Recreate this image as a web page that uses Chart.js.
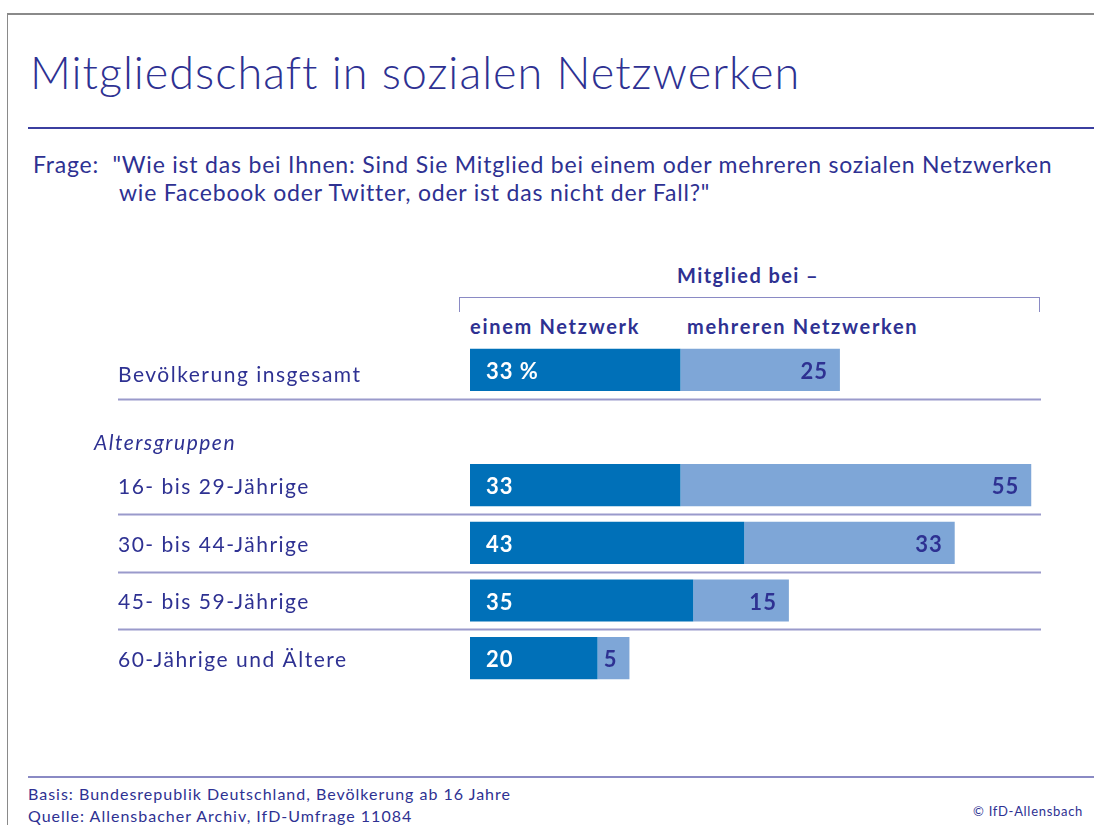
<!DOCTYPE html>
<html><head><meta charset="utf-8">
<script src="https://cdn.jsdelivr.net/npm/chart.js@4/dist/chart.umd.min.js"></script>
<style>
html,body{margin:0;padding:0;background:#fff;}
body{width:1094px;height:825px;position:relative;overflow:hidden;font-family:"Lato","Open Sans",sans-serif;color:#2e3192;}
.t{position:absolute;white-space:nowrap;line-height:1;}
#frame{position:absolute;left:7px;top:13px;width:1100px;height:900px;border-top:2px solid #8a8a8a;border-left:1px solid #8a8a8a;}
#title{left:30px;top:50px;font-size:45px;font-weight:300;letter-spacing:1px;}
#rule1{position:absolute;left:28px;top:127px;width:1066px;height:0;border-top:2px solid #3b3fa0;}
#q1{left:33px;top:153px;font-size:23px;letter-spacing:0.8px;}
#q2{left:119px;top:181px;font-size:23px;letter-spacing:0.8px;}
#hdr{left:748px;transform:translateX(-50%);top:265px;font-size:20px;font-weight:700;letter-spacing:1.4px;}
#br{position:absolute;left:459px;top:297px;width:579px;height:14px;border:1.5px solid #8a8ac4;border-bottom:none;}
#h1{left:470px;top:316px;font-size:20px;font-weight:700;letter-spacing:1.7px;}
#h2{left:687px;top:316px;font-size:20px;font-weight:700;letter-spacing:1.7px;}
#rule2{position:absolute;left:28px;top:776px;width:1066px;height:0;border-top:2px solid #8a8ac4;}
#f1{left:28px;top:786px;font-size:16px;letter-spacing:1px;}
#f2{left:28px;top:808px;font-size:16px;letter-spacing:1px;}
#f3{right:11px;top:805px;font-size:13px;letter-spacing:0.7px;}
#c{position:absolute;left:0;top:0;}
</style></head>
<body>
<div id="frame"></div>
<div class="t" id="title">Mitgliedschaft in sozialen Netzwerken</div>
<div id="rule1"></div>
<div class="t" id="q1">Frage:&nbsp; "Wie ist das bei Ihnen: Sind Sie Mitglied bei einem oder mehreren sozialen Netzwerken</div>
<div class="t" id="q2">wie Facebook oder Twitter, oder ist das nicht der Fall?"</div>
<div class="t" id="hdr">Mitglied bei –</div>
<div id="br"></div>
<div class="t" id="h1">einem Netzwerk</div>
<div class="t" id="h2">mehreren Netzwerken</div>
<div id="rule2"></div>
<div class="t" id="f1">Basis: Bundesrepublik Deutschland, Bevölkerung ab 16 Jahre</div>
<div class="t" id="f2">Quelle: Allensbacher Archiv, IfD-Umfrage 11084</div>
<div class="t" id="f3">© IfD-Allensbach</div>
<canvas id="c" width="1094" height="825"></canvas>
<script>
const categories = ["Bevölkerung insgesamt", "Altersgruppen", "16- bis 29-Jährige", "30- bis 44-Jährige", "45- bis 59-Jährige", "60-Jährige und Ältere"];
const einemNetzwerk = [33, null, 33, 43, 35, 20];
const mehrerenNetzwerken = [25, null, 55, 33, 15, 5];
const seriesNames = ["einem Netzwerk", "mehreren Netzwerken"];
const separatorsAfter = [0, 2, 3, 4];

const TEXT = "#2e3192";
const FONT = "Lato, 'Open Sans', sans-serif";

const overlay = {
  id: "overlay",
  afterDatasetsDraw(chart) {
    const ctx = chart.ctx, y = chart.scales.y;
    ctx.save();
    ctx.strokeStyle = "#9a9acb"; ctx.lineWidth = 2;
    separatorsAfter.forEach(i => {
      const yy = Math.round((y.getPixelForValue(i) + y.getPixelForValue(i + 1)) / 2) + 0.5;
      ctx.beginPath(); ctx.moveTo(118, yy); ctx.lineTo(1041, yy); ctx.stroke();
    });
    ctx.textBaseline = "middle"; ctx.textAlign = "left"; ctx.fillStyle = TEXT;
    if ("letterSpacing" in ctx) ctx.letterSpacing = "1.5px";
    categories.forEach((c, i) => {
      const yy = y.getPixelForValue(i);
      if (einemNetzwerk[i] === null) {
        ctx.font = "italic 21px " + FONT;
        ctx.fillText(c, 94, yy + 16);
      } else {
        ctx.font = "21px " + FONT;
        ctx.fillText(c, 118, yy + (i === 0 ? 5 : 2));
      }
    });
    if ("letterSpacing" in ctx) ctx.letterSpacing = "1px";
    ctx.font = "bold 22px " + FONT;
    const m0 = chart.getDatasetMeta(0), m1 = chart.getDatasetMeta(1);
    categories.forEach((c, i) => {
      if (einemNetzwerk[i] === null) return;
      const b0 = m0.data[i], b1 = m1.data[i];
      ctx.fillStyle = "#ffffff"; ctx.textAlign = "left";
      ctx.fillText(einemNetzwerk[i] + (i === 0 ? " %" : ""), b0.base + 16, b0.y + 2);
      ctx.fillStyle = TEXT; ctx.textAlign = "right";
      ctx.fillText(String(mehrerenNetzwerken[i]), b1.x - 12, b1.y + 2);
    });
    ctx.restore();
  }
};

new Chart(document.getElementById("c"), {
  type: "bar",
  data: {
    labels: categories,
    datasets: [
      { label: seriesNames[0], data: einemNetzwerk, backgroundColor: "#0070b8", borderWidth: 0 },
      { label: seriesNames[1], data: mehrerenNetzwerken, backgroundColor: "#7ea6d7", borderWidth: 0 }
    ]
  },
  options: {
    indexAxis: "y",
    responsive: false,
    animation: false,
    events: [],
    layout: { padding: { left: 470, top: 341, right: 50, bottom: 138 } },
    plugins: { legend: { display: false }, title: { display: false }, tooltip: { enabled: false } },
    scales: {
      x: { stacked: true, min: 0, max: 90, display: false },
      y: { stacked: true, display: false }
    },
    datasets: { bar: { barPercentage: 0.73, categoryPercentage: 1 } }
  },
  plugins: [overlay]
});
</script>
</body></html>
